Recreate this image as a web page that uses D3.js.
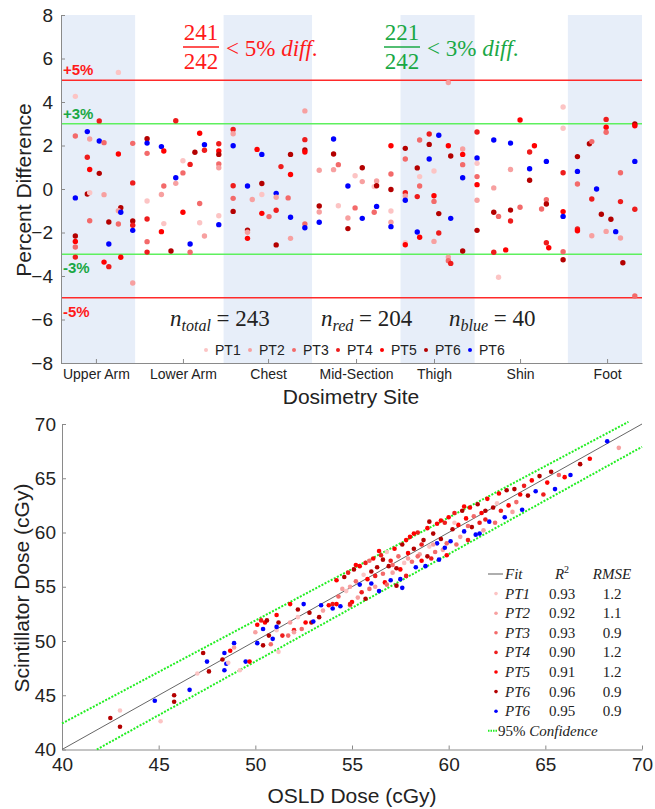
<!DOCTYPE html>
<html>
<head>
<meta charset="utf-8">
<script src="https://cdn.jsdelivr.net/npm/d3@7"></script>
<style>
  body { margin: 0; background: #fff; }
  svg { display: block; }
  text { font-family: "Liberation Sans", Arial, sans-serif; fill: #222; }
  .math { font-family: "Liberation Serif", "DejaVu Serif", serif; }
</style>
</head>
<body>
<svg id="chart" width="655" height="809"></svg>
<script>
// ---------- top panel data ----------
const sites = ["Upper Arm", "Lower Arm", "Chest", "Mid-Section", "Thigh", "Shin", "Foot"];
const siteBounds = [0, 31, 68, 105, 142, 173, 212, 243];   // dosimeter index where each site starts
const siteTicks = [14.6, 51, 86.6, 123.4, 156, 192, 228.4];
const patients = ["PT1", "PT2", "PT3", "PT4", "PT5", "PT6", "PT6"];
const patientColors = ["#fcc4c4", "#f7a0a0", "#f36a6a", "#ee1c1c", "#ff0000", "#b40000", "#0000ff"];
const yTicksTop = [-8, -6, -4, -2, 0, 2, 4, 6, 8];

// [dosimeter index, percent difference, patient]
const upperArm = [
  [24, 5.36, 0], [6, 4.26, 0], [16, 3.13, 3], [6, 2.44, 2], [11, 2.64, 6], [12, 2.30, 1],
  [16, 2.21, 6], [18, 2.13, 2], [30, 2.10, 2], [24, 1.61, 4], [11, 1.46, 3], [12, 0.90, 4],
  [16, 0.72, 5], [30, 0.28, 3], [6, -0.41, 6], [11, -0.23, 5], [12, -0.17, 0], [18, -0.26, 1],
  [25, -0.86, 5], [24, -1.00, 1], [25, -1.07, 6], [12, -1.46, 2], [20, -1.52, 5], [24, -1.61, 2],
  [30, -1.47, 5], [30, -1.67, 3], [30, -1.90, 6], [6, -2.16, 5], [6, -2.41, 4], [6, -2.67, 2],
  [20, -2.53, 6], [6, -3.13, 3], [18, -3.36, 4], [20, -3.57, 3], [25, -3.14, 4], [30, -4.32, 1]
];
const lowerArm = [
  [48, 3.14, 3], [36, 2.31, 5], [36, 2.11, 6], [42, 1.95, 6], [43, 1.75, 4], [36, 1.64, 2],
  [48, 0.52, 6], [48, 0.26, 1], [43, 0.14, 2], [42, -0.25, 1], [36, -0.55, 0], [36, -1.38, 3],
  [43, -1.59, 0], [42, -1.96, 4], [36, -2.42, 2], [36, -2.90, 3], [46, -2.85, 5], [58, 2.56, 4],
  [60, 2.04, 6], [60, 1.78, 3], [56, 1.69, 5], [66, 2.08, 3], [66, 1.75, 4], [66, 1.59, 5],
  [66, 1.15, 2], [66, 0.98, 1], [51, 1.30, 0], [54, 1.13, 3], [51, 0.74, 2], [58, -0.67, 2],
  [51, -1.07, 4], [58, -1.55, 0], [66, -1.23, 0], [66, -1.64, 6], [60, -2.16, 1], [54, -2.53, 6],
  [54, -2.91, 2]
];
const chest = [
  [72, 2.74, 3], [72, 2.54, 1], [72, 1.99, 6], [82, 1.82, 4], [84, 1.59, 6], [92, 1.03, 3],
  [96, 1.59, 5], [96, 0.67, 4], [72, 0.15, 3], [78, 0.14, 6], [84, 0.25, 5], [72, -0.43, 2],
  [80, -0.48, 1], [84, -0.25, 0], [90, -0.20, 6], [90, -0.38, 1], [95, -0.41, 2], [72, -1.03, 5],
  [84, -1.12, 4], [87, -1.27, 2], [90, -0.98, 3], [96, -1.30, 6], [78, -1.89, 5], [78, -1.99, 1],
  [78, -2.27, 4], [90, -2.57, 5], [96, -2.27, 1], [102, 3.59, 1], [102, 2.27, 3], [102, 1.79, 5],
  [102, 1.70, 4], [102, -1.61, 2], [102, -1.78, 6]
];
const midSection = [
  [114, 2.30, 6], [114, 1.61, 5], [108, 0.86, 1], [114, 0.89, 1], [116, 1.12, 2], [126, 0.98, 5],
  [123, 0.61, 0], [126, 0.34, 1], [120, 0.14, 6], [131, 0.11, 0], [132, 0.37, 1], [132, 0.15, 5],
  [138, 1.99, 4], [138, 0.69, 2], [138, -0.02, 5], [108, -0.78, 5], [108, -1.06, 1], [108, -1.53, 6],
  [116, -0.77, 0], [120, -1.33, 1], [120, -1.82, 5], [123, -0.87, 2], [126, -1.35, 6], [132, -0.80, 6],
  [131, -1.07, 2], [138, -1.01, 0], [138, -1.53, 1], [138, -1.73, 6]
];
const thigh = [
  [144, 1.87, 5], [144, 1.38, 2], [144, -0.17, 3], [144, -0.32, 1], [144, -0.52, 6], [144, -2.47, 0],
  [144, -2.56, 4], [162, 4.90, 1], [149, 0.97, 5], [149, -0.35, 3], [149, -1.98, 6], [150, 2.25, 2],
  [150, 0.57, 0], [150, 0.14, 2], [150, -2.22, 4], [154, 2.53, 3], [154, 2.05, 5], [154, 1.38, 6],
  [156, 0.83, 0], [156, -0.31, 4], [156, -0.57, 2], [156, -2.41, 1], [158, 2.47, 6], [158, -1.13, 5],
  [158, -2.02, 3], [162, 1.99, 4], [163, 1.52, 5], [163, -1.35, 6], [162, -3.13, 1], [162, -3.30, 2],
  [163, -3.42, 3], [168, 1.84, 1], [168, 1.59, 4], [168, 1.12, 2], [168, 0.52, 6], [168, -2.85, 5]
];
const shin = [
  [174, 2.62, 3], [174, 1.43, 6], [174, 1.18, 0], [174, 0.57, 2], [174, 0.20, 4], [174, -0.52, 1],
  [174, -1.90, 5], [181, 2.25, 6], [181, 0.05, 1], [181, -1.07, 5], [183, -1.26, 2], [181, -2.91, 3],
  [183, -4.06, 0], [186, -2.80, 4], [188, 2.11, 6], [188, 0.90, 1], [188, -0.97, 5], [188, -1.47, 3],
  [192, 3.17, 4], [192, -0.84, 2], [196, 1.70, 3], [196, 0.93, 6], [196, 0.40, 5], [198, 1.99, 4],
  [203, 1.27, 6], [203, -0.49, 2], [203, -0.69, 5], [201, -0.92, 2], [203, -2.47, 3], [204, -2.70, 4],
  [210, 3.77, 0], [210, 2.79, 0], [210, 0.75, 3], [210, -1.04, 4], [210, -1.26, 6], [210, -2.88, 2],
  [210, -3.25, 5]
];
const foot = [
  [216, 1.49, 5], [216, 0.81, 6], [216, 0.23, 2], [216, -1.84, 3], [216, -1.92, 4], [221, 2.08, 5],
  [222, 2.18, 2], [222, -0.46, 3], [222, -2.15, 1], [224, 0.00, 6], [226, -1.16, 5], [228, 3.20, 3],
  [228, 2.84, 4], [228, 2.61, 2], [228, -1.95, 1], [230, -1.39, 5], [232, -1.96, 6], [234, 0.75, 2],
  [234, -0.58, 3], [234, -2.25, 1], [235, -3.39, 5], [240, 2.99, 5], [240, 2.91, 4], [240, 1.27, 6],
  [240, -0.93, 3], [240, -4.92, 2]
];

// ---------- bottom panel data ----------
const xyTicks = [40, 45, 50, 55, 60, 65, 70];
const fitR2 = [0.93, 0.92, 0.93, 0.90, 0.91, 0.96, 0.95];
const fitRMSE = [1.2, 1.1, 0.9, 1.2, 1.2, 0.9, 0.9];
const fitLine = [[40, 40], [70, 70]];
const confUpper = [[40, 42.4], [69.3, 70.2]];
const confLower = [[41.8, 40], [70, 67.9]];

// [OSLD dose, scintillator dose, patient]
const dosePoints = [
  [42.5, 42.9, 5], [43.0, 43.6, 0], [43.0, 42.1, 5], [45.1, 42.6, 0], [44.8, 44.5, 6], [45.8, 45.0, 5],
  [45.8, 44.4, 5], [46.6, 45.5, 6], [47.0, 47.0, 0], [47.3, 48.9, 5], [47.5, 48.1, 6], [47.6, 47.2, 5],
  [48.3, 48.3, 5], [48.4, 48.9, 6], [48.5, 47.9, 6], [48.4, 47.3, 6], [48.7, 49.1, 4], [48.6, 48.0, 0],
  [48.9, 49.8, 6], [48.9, 49.4, 1], [49.2, 47.3, 0], [49.5, 48.1, 6], [49.7, 48.1, 4], [50.0, 50.8, 1],
  [50.1, 51.5, 4], [50.1, 49.8, 6], [50.3, 51.9, 3], [50.4, 51.1, 6], [50.4, 49.6, 5], [50.5, 51.7, 4],
  [50.6, 51.9, 5], [50.7, 50.5, 5], [50.8, 49.7, 2], [50.9, 50.2, 6], [51.1, 51.0, 0], [51.1, 52.4, 4],
  [51.2, 51.7, 5], [51.2, 49.0, 0], [51.1, 51.3, 6], [51.4, 50.5, 3], [51.7, 50.5, 2], [51.8, 51.7, 1],
  [51.8, 53.4, 4], [52.0, 51.0, 3], [52.0, 50.8, 1], [52.2, 52.9, 5], [52.2, 52.2, 0], [52.4, 51.1, 2],
  [52.5, 53.4, 6], [52.6, 51.7, 4], [52.8, 52.6, 5], [52.9, 51.7, 5], [53.0, 51.8, 6], [53.3, 52.2, 5],
  [53.4, 53.3, 6], [53.5, 52.8, 1], [53.8, 53.3, 4], [54.0, 53.4, 3], [54.0, 53.0, 6], [54.2, 53.4, 4],
  [54.9, 53.3, 2],
  // dense upper part of the cloud
  [54.2, 55.6, 4], [54.3, 54.1, 2], [54.4, 53.2, 6], [54.6, 55.9, 5], [54.7, 54.6, 0], [54.8, 56.3, 3],
  [54.9, 55.0, 1], [55.0, 53.6, 4], [55.1, 56.6, 5], [55.2, 55.5, 2], [55.3, 54.0, 1], [55.4, 56.9, 4],
  [55.4, 55.2, 6], [55.5, 54.5, 3], [55.6, 56.1, 0], [55.7, 53.9, 5], [55.7, 57.2, 3], [55.8, 55.7, 4],
  [55.9, 54.8, 2], [56.0, 56.4, 5], [56.0, 55.3, 6], [55.2, 57.0, 4], [54.5, 54.8, 1], [55.9, 57.4, 2],
  [54.9, 53.4, 3],
  [56.1, 57.6, 4], [56.2, 55.0, 1], [56.3, 56.8, 5], [56.4, 54.6, 6], [56.5, 57.9, 3], [56.6, 56.2, 2],
  [56.7, 55.4, 4], [56.8, 58.2, 0], [56.9, 56.9, 5], [57.0, 55.6, 6], [57.0, 57.4, 3], [57.1, 56.3, 1],
  [57.2, 58.5, 4], [57.3, 55.1, 5], [57.4, 57.8, 2], [57.5, 56.6, 4], [57.5, 55.7, 6], [57.6, 58.9, 5],
  [57.7, 57.2, 0], [57.8, 56.0, 3], [57.9, 58.1, 4], [57.9, 57.6, 1], [56.4, 58.3, 4], [56.8, 55.2, 2],
  [57.3, 56.7, 5], [57.6, 54.9, 6], [56.2, 56.0, 3], [57.8, 59.3, 4], [57.1, 57.0, 2], [56.6, 57.5, 5],
  [58.0, 59.6, 4], [58.1, 57.3, 2], [58.2, 58.5, 5], [58.3, 56.8, 6], [58.4, 60.0, 3], [58.5, 58.0, 1],
  [58.6, 57.4, 4], [58.7, 59.3, 5], [58.8, 56.9, 6], [58.9, 60.4, 4], [59.0, 58.7, 0], [59.1, 57.6, 3],
  [59.2, 59.9, 5], [59.3, 58.2, 2], [59.4, 60.8, 4], [59.5, 57.5, 6], [59.6, 59.4, 5], [59.7, 58.4, 1],
  [59.8, 60.9, 3], [59.9, 57.9, 4], [59.9, 59.0, 2], [58.2, 59.9, 4], [58.6, 58.9, 3], [59.0, 61.0, 5],
  [59.4, 59.0, 6], [58.9, 57.8, 5], [59.6, 61.1, 4], [58.4, 57.8, 2], [59.2, 58.9, 1], [59.8, 58.6, 6],
  [60.0, 61.4, 4], [60.1, 59.2, 6], [60.2, 60.3, 5], [60.3, 61.8, 3], [60.4, 58.9, 2], [60.5, 60.7, 4],
  [60.6, 59.6, 1], [60.7, 62.0, 5], [60.8, 60.1, 6], [60.9, 61.3, 4], [61.0, 59.3, 3], [61.1, 62.3, 4],
  [61.2, 60.5, 5], [61.3, 61.5, 2], [61.4, 59.8, 6], [61.5, 62.6, 5], [61.6, 60.9, 3], [61.7, 61.8, 4],
  [61.8, 60.2, 1], [61.9, 62.0, 5], [60.3, 60.9, 0], [61.0, 60.6, 2], [61.6, 59.9, 6], [60.8, 62.4, 4],
  [61.9, 61.2, 3],
  [62.0, 63.1, 4], [62.1, 61.0, 6], [62.3, 62.3, 5], [62.4, 60.9, 2], [62.6, 63.6, 4], [62.7, 62.0, 3],
  [62.9, 61.4, 6], [63.0, 63.9, 5], [63.1, 62.5, 4], [63.3, 61.9, 1], [63.4, 64.0, 5], [63.5, 62.8, 2],
  [63.7, 63.5, 4], [63.8, 62.1, 6], [63.9, 64.3, 3], [62.5, 62.7, 0],
  [64.1, 63.4, 5], [64.3, 64.8, 4], [64.5, 63.8, 6], [64.7, 65.2, 5], [64.9, 63.5, 3], [65.1, 64.6, 4],
  [65.3, 65.6, 5], [65.5, 64.0, 6], [65.7, 65.3, 2], [66.0, 65.1, 4],
  [66.3, 65.3, 6], [66.8, 66.3, 5], [67.3, 66.8, 4], [68.2, 68.4, 6], [68.8, 67.8, 1]
];

const svg = d3.select("#chart");

// ================= TOP PANEL =================
const xTop = d3.scaleLinear().domain([0, 243]).range([61, 642]);
const yTop = d3.scaleLinear().domain([-8, 8]).range([363, 15]);
const topPanel = svg.append("g");

// shaded site bands (every other site)
topPanel.selectAll("rect.band")
  .data(sites.map((s, i) => [siteBounds[i], siteBounds[i + 1]]).filter((d, i) => i % 2 === 0))
  .enter().append("rect")
  .attr("class", "band")
  .attr("x", d => xTop(d[0]))
  .attr("width", d => xTop(d[1]) - xTop(d[0]))
  .attr("y", yTop(8))
  .attr("height", yTop(-8) - yTop(8))
  .attr("fill", "#e7eef9");

// limit lines
const limits = [[5, "#ff2a2a"], [3, "#5ef05e"], [-3, "#5ef05e"], [-5, "#ff2a2a"]];
topPanel.selectAll("line.limit").data(limits).enter().append("line")
  .attr("x1", xTop(0)).attr("x2", xTop(243))
  .attr("y1", d => yTop(d[0])).attr("y2", d => yTop(d[0]))
  .attr("stroke", d => d[1]).attr("stroke-width", 1.6);

// axes
const yAxisTop = topPanel.append("g").attr("transform", `translate(${xTop(0)},0)`)
  .call(d3.axisLeft(yTop).tickValues(yTicksTop).tickSizeInner(-4).tickSizeOuter(0).tickPadding(8));
yAxisTop.selectAll("text").attr("font-size", 19).attr("font-family", "Liberation Sans, Arial, sans-serif");
const xAxisTop = topPanel.append("g").attr("transform", `translate(0,${yTop(-8)})`)
  .call(d3.axisBottom(xTop).tickValues(siteTicks).tickFormat((d, i) => sites[i]).tickSizeInner(-4).tickSizeOuter(0).tickPadding(6));
xAxisTop.selectAll("text").attr("font-size", 14).attr("font-family", "Liberation Sans, Arial, sans-serif");
topPanel.selectAll(".domain, .tick line").attr("stroke", "#8a8a8a");

// points
const allSites = [upperArm, lowerArm, chest, midSection, thigh, shin, foot];
topPanel.append("g").selectAll("circle")
  .data(allSites.flat())
  .enter().append("circle")
  .attr("cx", d => xTop(d[0]))
  .attr("cy", d => yTop(d[1]))
  .attr("r", 2.7)
  .attr("fill", d => patientColors[d[2]]);

// limit labels
const limitLabels = [[5, "+5%", "#ff1a1a"], [3, "+3%", "#1aa845"], [-3, "-3%", "#1aa845"], [-5, "-5%", "#ff1a1a"]];
topPanel.selectAll("text.lim").data(limitLabels).enter().append("text")
  .attr("x", xTop(0) + 2)
  .attr("y", d => d[0] > 0 ? yTop(d[0]) - 5 : yTop(d[0]) + 19)
  .attr("font-size", 15).attr("font-weight", "bold")
  .attr("font-family", "Open Sans, Lato, sans-serif")
  .style("fill", d => d[2])
  .text(d => d[1]);

// fraction annotations
function fraction(cx, num, den, tail, color) {
  const g = topPanel.append("g").attr("class", "math");
  g.append("text").attr("x", cx).attr("y", 40).attr("text-anchor", "middle")
    .attr("font-size", 23).style("fill", color).attr("class", "math").text(num);
  g.append("line").attr("x1", cx - 18).attr("x2", cx + 18).attr("y1", 47).attr("y2", 47)
    .attr("stroke", color).attr("stroke-width", 1.3);
  g.append("text").attr("x", cx).attr("y", 69).attr("text-anchor", "middle")
    .attr("font-size", 23).style("fill", color).attr("class", "math").text(den);
  const t = g.append("text").attr("x", cx + 25).attr("y", 56).attr("font-size", 23)
    .style("fill", color).attr("class", "math");
  t.append("tspan").text("< " + tail + " ");
  t.append("tspan").attr("font-style", "italic").text("diff");
  t.append("tspan").text(".");
}
fraction(201, "241", "242", "5%", "#ff1a1a");
fraction(402, "221", "242", "3%", "#1aa845");

// n counts
function countText(x, sub, value) {
  const t = topPanel.append("text").attr("class", "math").attr("x", x).attr("y", 326).attr("font-size", 23);
  t.append("tspan").attr("font-style", "italic").text("n");
  t.append("tspan").attr("font-style", "italic").attr("font-size", 16).attr("dy", 5).text(sub);
  t.append("tspan").attr("dy", -5).text(" = " + value);
}
countText(170, "total", 243);
countText(321, "red", 204);
countText(449, "blue", 40);

// legend
const legTop = topPanel.append("g").selectAll("g").data(patients).enter().append("g")
  .attr("transform", (d, i) => `translate(${206 + i * 44},350)`);
legTop.append("circle").attr("r", 2).attr("fill", (d, i) => patientColors[i]);
legTop.append("text").attr("x", 9).attr("y", 5).attr("font-size", 14).text(d => d);

// axis titles
topPanel.append("text").attr("transform", `translate(31,190) rotate(-90)`).attr("text-anchor", "middle")
  .attr("font-size", 21).text("Percent Difference");
topPanel.append("text").attr("x", 351).attr("y", 404).attr("text-anchor", "middle")
  .attr("font-size", 21).text("Dosimetry Site");

// ================= BOTTOM PANEL =================
const xB = d3.scaleLinear().domain([40, 70]).range([62, 642]);
const yB = d3.scaleLinear().domain([40, 70]).range([749.5, 424]);
const bot = svg.append("g");

svg.append("defs").append("clipPath").attr("id", "clipB").append("rect")
  .attr("x", xB(40)).attr("y", yB(70) - 3).attr("width", xB(70) - xB(40)).attr("height", yB(40) - yB(70) + 3);

const xAxisB = bot.append("g").attr("transform", `translate(0,${yB(40)})`)
  .call(d3.axisBottom(xB).tickValues(xyTicks).tickSizeInner(-4).tickSizeOuter(0).tickPadding(8));
xAxisB.selectAll("text").attr("font-size", 19).attr("font-family", "Liberation Sans, Arial, sans-serif");
const yAxisB = bot.append("g").attr("transform", `translate(${xB(40)},0)`)
  .call(d3.axisLeft(yB).tickValues(xyTicks).tickSizeInner(-4).tickSizeOuter(0).tickPadding(6));
yAxisB.selectAll("text").attr("font-size", 19).attr("font-family", "Liberation Sans, Arial, sans-serif");
bot.selectAll(".domain, .tick line").attr("stroke", "#8a8a8a");

const line = d3.line().x(d => xB(d[0])).y(d => yB(d[1]));
bot.append("path").datum(fitLine).attr("d", line).attr("fill", "none")
  .attr("stroke", "#555").attr("stroke-width", 0.9).attr("clip-path", "url(#clipB)");
bot.selectAll("path.conf").data([confUpper, confLower]).enter().append("path")
  .attr("d", line).attr("fill", "none").attr("stroke", "#22ee22")
  .attr("stroke-width", 2).attr("stroke-dasharray", "2,1.5");

bot.append("g").selectAll("circle").data(dosePoints).enter().append("circle")
  .attr("cx", d => xB(d[0])).attr("cy", d => yB(d[1])).attr("r", 2.3)
  .attr("fill", d => patientColors[d[2]]);

// legend with fit stats
const legB = bot.append("g").attr("class", "math");
const rowY = i => 578 + i * 19.6;
legB.append("line").attr("x1", 488).attr("x2", 503).attr("y1", rowY(0) - 4).attr("y2", rowY(0) - 4)
  .attr("stroke", "#777").attr("stroke-width", 1.2);
const hdr = legB.append("g").style("font-style", "italic");
hdr.append("text").attr("x", 505).attr("y", rowY(0) + 1).attr("font-size", 15).attr("class", "math").text("Fit");
const r2 = hdr.append("text").attr("x", 562).attr("y", rowY(0) + 1).attr("text-anchor", "middle").attr("font-size", 15).attr("class", "math");
r2.append("tspan").text("R");
r2.append("tspan").attr("font-size", 10).attr("font-style", "normal").attr("dy", -6).text("2");
hdr.append("text").attr("x", 612).attr("y", rowY(0) + 1).attr("text-anchor", "middle").attr("font-size", 15).attr("class", "math").text("RMSE");

const rows = legB.selectAll("g.row").data(patients).enter().append("g")
  .attr("transform", (d, i) => `translate(0,${rowY(i + 1)})`);
rows.append("circle").attr("cx", 496).attr("cy", -4).attr("r", 1.8).attr("fill", (d, i) => patientColors[i]);
rows.append("text").attr("x", 505).attr("y", 1).attr("font-size", 15).attr("class", "math")
  .attr("font-style", "italic").text(d => d);
rows.append("text").attr("x", 562).attr("y", 1).attr("text-anchor", "middle").attr("font-size", 15)
  .attr("class", "math").text((d, i) => fitR2[i].toFixed(2));
rows.append("text").attr("x", 612).attr("y", 1).attr("text-anchor", "middle").attr("font-size", 15)
  .attr("class", "math").text((d, i) => fitRMSE[i].toFixed(1));
legB.append("line").attr("x1", 488).attr("x2", 497).attr("y1", rowY(8) - 4).attr("y2", rowY(8) - 4)
  .attr("stroke", "#22ee22").attr("stroke-width", 2).attr("stroke-dasharray", "1.5,1");
const conf = legB.append("text").attr("x", 498).attr("y", rowY(8) + 1).attr("font-size", 15).attr("class", "math");
conf.append("tspan").text("95% ");
conf.append("tspan").attr("font-style", "italic").text("Confidence");

bot.append("text").attr("transform", `translate(29,588) rotate(-90)`).attr("text-anchor", "middle")
  .attr("font-size", 21).text("Scintillator Dose (cGy)");
bot.append("text").attr("x", 352).attr("y", 803).attr("text-anchor", "middle")
  .attr("font-size", 21).text("OSLD Dose (cGy)");
</script>
</body>
</html>
